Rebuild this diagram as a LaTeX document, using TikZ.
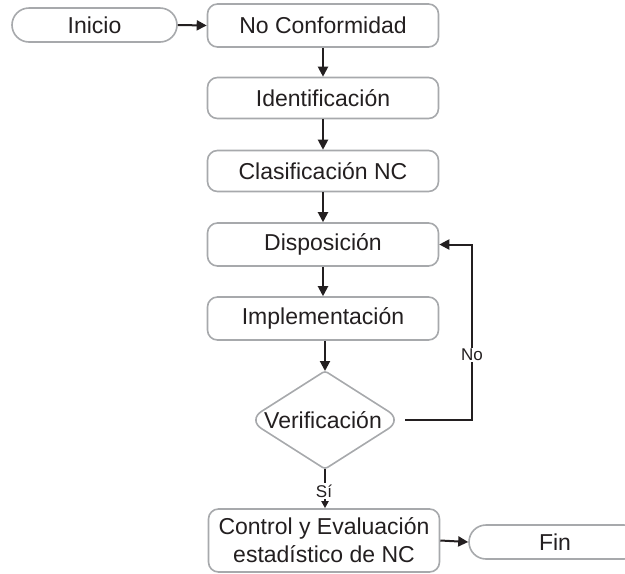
\documentclass[tikz,border=0pt]{standalone}
\usepackage{fontspec}
\setmainfont{Liberation Sans}
\usetikzlibrary{arrows.meta}
\definecolor{boxline}{HTML}{A7A9AC}
\definecolor{ink}{HTML}{231F20}
\begin{document}
\begin{tikzpicture}[x=1pt,y=-1pt,
  every node/.style={text=ink, font=\fontsize{23}{28}\selectfont},
  procbox/.style={draw=boxline, line width=1.6pt, rounded corners=10pt, minimum width=231pt, minimum height=43pt, inner sep=0pt, align=center, fill=white},
  termbox/.style={draw=boxline, line width=1.6pt, rounded corners=17pt, minimum height=34pt, inner sep=0pt, fill=white},
  flow/.style={draw=ink, line width=2pt, -{Triangle[length=10pt,width=10pt]}},
  smallflow/.style={draw=ink, line width=2pt, -{Triangle[length=7pt,width=7pt]}},
  tag/.style={font=\fontsize{17}{19}\selectfont, fill=white, inner sep=1.5pt}
]
\useasboundingbox (0,0) rectangle (625,574);

% start and end terminals
\node[termbox, minimum width=165pt] (ini) at (94.5,25) {Inicio};
\node[termbox, minimum width=172pt] (fin) at (555,542) {Fin};

% process steps
\node[procbox] (nc)  at (323,25.5) {No Conformidad};
\node[procbox, minimum height=41pt] (ide) at (323,98)  {Identificación};
\node[procbox, minimum height=41pt] (cla) at (323,171) {Clasificación NC};
\node[procbox] (dis) at (323,244.5) {Disposición};
\node[procbox] (imp) at (323,318.5) {Implementación};
\node[procbox, minimum height=63pt] (ctl) at (324,540.5) {Control y Evaluación\\estadístico de NC};

% decision
\coordinate (vt) at (325,371);
\coordinate (vr) at (402,420);
\coordinate (vb) at (325,469);
\coordinate (vl) at (248,420);
\draw[boxline, line width=1.6pt, fill=white]
  (vt) [rounded corners=16pt] -- (vr) [rounded corners=3pt] -- (vb)
  [rounded corners=16pt] -- (vl) [rounded corners=3pt] -- cycle;
\node (ver) at (323,420) {Verificación};

% connectors
\draw[flow] (ini.east) -- (nc.west);
\draw[flow] (nc.south) -- (ide.north);
\draw[flow] (ide.south) -- (cla.north);
\draw[flow] (cla.south) -- (dis.north);
\draw[flow] (dis.south) -- (imp.north);
\draw[flow] (imp.south -| vt) -- (vt);
\coordinate (loop) at (472,420);
\draw[flow] (405,420) -- (loop) |- (dis.east);
\node[tag] (no) at (472,355) {No};
\draw[smallflow] (vb) -- (ctl.north -| vb);
\node[tag] (si) at (324,491) {Sí};
\draw[flow] (ctl.east) -- (fin.west);
\end{tikzpicture}
\end{document}
